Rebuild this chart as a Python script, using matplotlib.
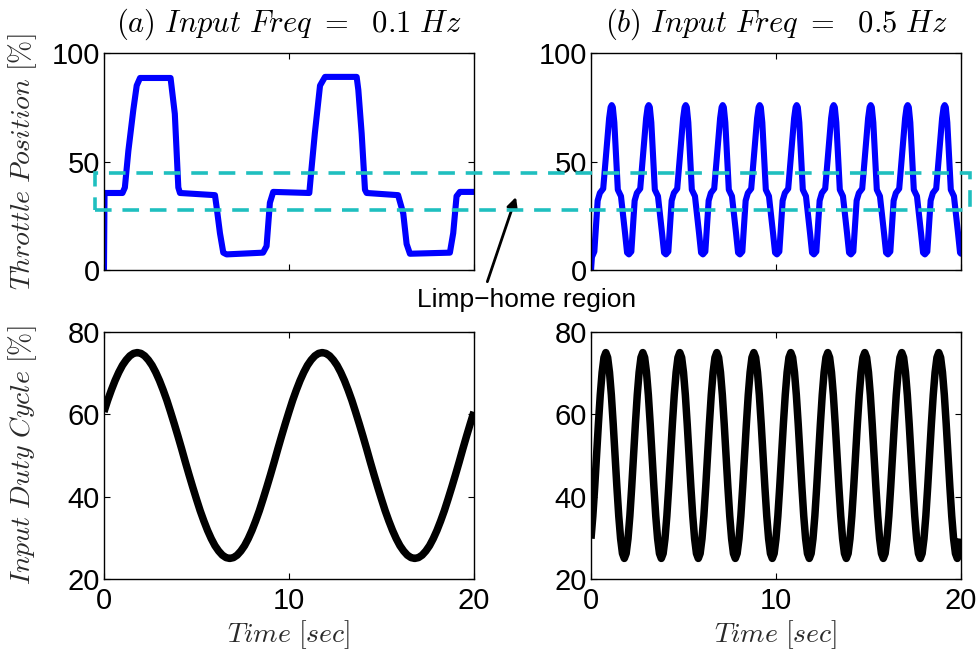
"""
Throttle response to a sinusoidal duty-cycle input (0.1 Hz vs 0.5 Hz)
"""

import numpy as np
import matplotlib.pyplot as plt
from matplotlib.patches import Rectangle
import matplotlib.transforms as mtransforms

plt.rcParams['font.family'] = ['Liberation Sans', 'DejaVu Sans']
plt.rcParams['mathtext.fontset'] = 'cm'

# ─────────────────────────────────────────
# DATA
# ─────────────────────────────────────────
# (a) 0.1 Hz – throttle position breakpoints
t_thr_a = [0.0, 0.03, 1.0, 1.13, 1.32, 1.59, 1.77, 1.95,
           3.6, 3.83, 4.02, 4.11,
           6.0, 6.09, 6.27, 6.45, 6.63,
           8.6, 8.79, 8.97, 9.15,
           11.1, 11.2, 11.4, 11.68, 11.95,
           13.66, 13.75, 13.93, 14.11, 14.2,
           15.9, 16.18, 16.36, 16.54,
           18.7, 18.88, 19.06, 19.24, 20.0]
thr_a = [0, 35.5, 35.5, 38, 55, 74, 85, 88.5,
         88.5, 72, 38, 35.5,
         34.5, 29, 17, 8, 7.2,
         8, 11, 31, 36,
         35.5, 45, 63, 85, 89,
         89, 83, 63, 37, 35.5,
         34.5, 26, 12, 7.5,
         8, 17, 34, 36, 36]

# (b) 0.5 Hz – throttle position breakpoints (one row per cycle)
t_thr_b = [0.0, 0.05, 0.18, 0.36, 0.48, 0.66, 0.88, 0.98, 1.06, 1.12, 1.18, 1.26, 1.45, 1.62, 1.84, 1.95,
           2.05, 2.18, 2.36, 2.48, 2.66, 2.88, 2.98, 3.06, 3.12, 3.18, 3.26, 3.45, 3.62, 3.84, 3.95,
           4.05, 4.18, 4.36, 4.48, 4.66, 4.88, 4.98, 5.06, 5.12, 5.18, 5.26, 5.45, 5.62, 5.84, 5.95,
           6.05, 6.18, 6.36, 6.48, 6.66, 6.88, 6.98, 7.06, 7.12, 7.18, 7.26, 7.45, 7.62, 7.84, 7.95,
           8.05, 8.18, 8.36, 8.48, 8.66, 8.88, 8.98, 9.06, 9.12, 9.18, 9.26, 9.45, 9.62, 9.84, 9.95,
           10.05, 10.18, 10.36, 10.48, 10.66, 10.88, 10.98, 11.06, 11.12, 11.18, 11.26, 11.45, 11.62, 11.84, 11.95,
           12.05, 12.18, 12.36, 12.48, 12.66, 12.88, 12.98, 13.06, 13.12, 13.18, 13.26, 13.45, 13.62, 13.84, 13.95,
           14.05, 14.18, 14.36, 14.48, 14.66, 14.88, 14.98, 15.06, 15.12, 15.18, 15.26, 15.45, 15.62, 15.84, 15.95,
           16.05, 16.18, 16.36, 16.48, 16.66, 16.88, 16.98, 17.06, 17.12, 17.18, 17.26, 17.45, 17.62, 17.84, 17.95,
           18.05, 18.18, 18.36, 18.48, 18.66, 18.88, 18.98, 19.06, 19.12, 19.18, 19.26, 19.45, 19.62, 19.84, 19.95,
           20.0]
thr_b = [0, 6, 8.5, 32, 35.5, 37.5, 60, 70, 75, 76, 75, 68, 37, 34, 17, 8,
         7.2, 8.5, 32, 35.5, 37.5, 60, 70, 75, 76, 75, 68, 37, 34, 17, 8,
         7.2, 8.5, 32, 35.5, 37.5, 60, 70, 75, 76, 75, 68, 37, 34, 17, 8,
         7.2, 8.5, 32, 35.5, 37.5, 60, 70, 75, 76, 75, 68, 37, 34, 17, 8,
         7.2, 8.5, 32, 35.5, 37.5, 60, 70, 75, 76, 75, 68, 37, 34, 17, 8,
         7.2, 8.5, 32, 35.5, 37.5, 60, 70, 75, 76, 75, 68, 37, 34, 17, 8,
         7.2, 8.5, 32, 35.5, 37.5, 60, 70, 75, 76, 75, 68, 37, 34, 17, 8,
         7.2, 8.5, 32, 35.5, 37.5, 60, 70, 75, 76, 75, 68, 37, 34, 17, 8,
         7.2, 8.5, 32, 35.5, 37.5, 60, 70, 75, 76, 75, 68, 37, 34, 17, 8,
         7.2, 8.5, 32, 35.5, 37.5, 60, 70, 75, 76, 75, 68, 37, 34, 17, 8,
         7.5]

# (a) 0.1 Hz – input duty cycle, sampled every 0.2 s
duty_a = [60.6, 63.4, 65.9, 68.2, 70.2, 71.9, 73.2, 74.2, 74.8, 75.0,
          74.8, 74.2, 73.2, 71.9, 70.2, 68.2, 65.9, 63.4, 60.6, 57.7,
          54.7, 51.6, 48.4, 45.3, 42.3, 39.4, 36.6, 34.1, 31.8, 29.8,
          28.1, 26.8, 25.8, 25.2, 25.0, 25.2, 25.8, 26.8, 28.1, 29.8,
          31.8, 34.1, 36.6, 39.4, 42.3, 45.3, 48.4, 51.6, 54.7, 57.7,
          60.6, 63.4, 65.9, 68.2, 70.2, 71.9, 73.2, 74.2, 74.8, 75.0,
          74.8, 74.2, 73.2, 71.9, 70.2, 68.2, 65.9, 63.4, 60.6, 57.7,
          54.7, 51.6, 48.4, 45.3, 42.3, 39.4, 36.6, 34.1, 31.8, 29.8,
          28.1, 26.8, 25.8, 25.2, 25.0, 25.2, 25.8, 26.8, 28.1, 29.8,
          31.8, 34.1, 36.6, 39.4, 42.3, 45.3, 48.4, 51.6, 54.7, 57.7,
          60.6]

# (b) 0.5 Hz – input duty cycle, sampled every 0.1 s
duty_b = [29.8, 35.3, 42.3, 50.0, 57.7, 64.7, 70.2, 73.8, 75.0, 73.8, 70.2, 64.7, 57.7, 50.0, 42.3, 35.3, 29.8, 26.2, 25.0, 26.2,
          29.8, 35.3, 42.3, 50.0, 57.7, 64.7, 70.2, 73.8, 75.0, 73.8, 70.2, 64.7, 57.7, 50.0, 42.3, 35.3, 29.8, 26.2, 25.0, 26.2,
          29.8, 35.3, 42.3, 50.0, 57.7, 64.7, 70.2, 73.8, 75.0, 73.8, 70.2, 64.7, 57.7, 50.0, 42.3, 35.3, 29.8, 26.2, 25.0, 26.2,
          29.8, 35.3, 42.3, 50.0, 57.7, 64.7, 70.2, 73.8, 75.0, 73.8, 70.2, 64.7, 57.7, 50.0, 42.3, 35.3, 29.8, 26.2, 25.0, 26.2,
          29.8, 35.3, 42.3, 50.0, 57.7, 64.7, 70.2, 73.8, 75.0, 73.8, 70.2, 64.7, 57.7, 50.0, 42.3, 35.3, 29.8, 26.2, 25.0, 26.2,
          29.8, 35.3, 42.3, 50.0, 57.7, 64.7, 70.2, 73.8, 75.0, 73.8, 70.2, 64.7, 57.7, 50.0, 42.3, 35.3, 29.8, 26.2, 25.0, 26.2,
          29.8, 35.3, 42.3, 50.0, 57.7, 64.7, 70.2, 73.8, 75.0, 73.8, 70.2, 64.7, 57.7, 50.0, 42.3, 35.3, 29.8, 26.2, 25.0, 26.2,
          29.8, 35.3, 42.3, 50.0, 57.7, 64.7, 70.2, 73.8, 75.0, 73.8, 70.2, 64.7, 57.7, 50.0, 42.3, 35.3, 29.8, 26.2, 25.0, 26.2,
          29.8, 35.3, 42.3, 50.0, 57.7, 64.7, 70.2, 73.8, 75.0, 73.8, 70.2, 64.7, 57.7, 50.0, 42.3, 35.3, 29.8, 26.2, 25.0, 26.2,
          29.8, 35.3, 42.3, 50.0, 57.7, 64.7, 70.2, 73.8, 75.0, 73.8, 70.2, 64.7, 57.7, 50.0, 42.3, 35.3, 29.8, 26.2, 25.0, 26.2,
          29.8]
t_duty_a = np.linspace(0, 20, len(duty_a))
t_duty_b = np.linspace(0, 20, len(duty_b))

limp_home = [27.5, 44.8]        # throttle band of the limp-home region [%]

titles = [r'$(a)\ Input\ Freq\ =\ \ 0.1\ Hz$', r'$(b)\ Input\ Freq\ =\ \ 0.5\ Hz$']

# ─────────────────────────────────────────
# FIGURE
# ─────────────────────────────────────────
BLUE  = '#0000FF'
CYAN  = '#1FBFBF'
LABEL = '#2a2a2a'

fig = plt.figure(figsize=(9.78, 6.53), dpi=100)
W, H_TOP, H_BOT = 0.3783, 0.3323, 0.3783
ax1 = fig.add_axes([0.1063, 0.5865, W, H_TOP])
ax2 = fig.add_axes([0.6043, 0.5865, W, H_TOP])
ax3 = fig.add_axes([0.1063, 0.1133, W, H_BOT])
ax4 = fig.add_axes([0.6043, 0.1133, W, H_BOT])

def style_ax(ax):
    ax.set_xlim(0, 20)
    ax.set_xticks([0, 10, 20])
    ax.tick_params(direction='in', top=True, right=True, labelsize=21,
                   length=4, width=0.8)
    ax.tick_params(axis='x', pad=6)
    ax.tick_params(axis='y', pad=3)
    for s in ax.spines.values():
        s.set_linewidth(1.0)

for ax in (ax1, ax2):
    style_ax(ax)
    ax.set_ylim(0, 100)
    ax.set_yticks([0, 50, 100])
    ax.tick_params(labelbottom=False)

for ax in (ax3, ax4):
    style_ax(ax)
    ax.set_ylim(20, 80)
    ax.set_yticks([20, 40, 60, 80])
    ax.set_xlabel(r'$Time\ [sec]$', fontsize=20, color=LABEL, labelpad=2)

ax1.plot(t_thr_a, thr_a, color=BLUE, lw=4.4, solid_joinstyle='round', solid_capstyle='round')
ax2.plot(t_thr_b, thr_b, color=BLUE, lw=4.4, solid_joinstyle='round', solid_capstyle='round')
ax3.plot(t_duty_a, duty_a, color='black', lw=5.4, solid_capstyle='butt')
ax4.plot(t_duty_b, duty_b, color='black', lw=5.4, solid_capstyle='butt')

ax1.set_title(titles[0], fontsize=22, pad=15)
ax2.set_title(titles[1], fontsize=22, pad=15)

ax1.set_ylabel(r'$Throttle\ Position\ [\%]$', fontsize=20, color=LABEL)
ax3.set_ylabel(r'$Input\ Duty\ Cycle\ [\%]$', fontsize=20, color=LABEL)
ax1.yaxis.set_label_coords(-0.175, 0.5)
ax3.yaxis.set_label_coords(-0.175, 0.5)

# ── Limp-home band spanning both top panels ──
trans = mtransforms.blended_transform_factory(fig.transFigure, ax1.transData)
band = Rectangle((0.097, limp_home[0]), 0.895, limp_home[1] - limp_home[0],
                 transform=trans, fill=False, edgecolor=CYAN, lw=2.6,
                 linestyle=(0, (4.6, 3.0)), zorder=5, clip_on=False)
fig.add_artist(band)

ax1.annotate('', xy=(0.5276, 0.6983), xycoords='figure fraction',
             xytext=(0.4983, 0.5686), textcoords='figure fraction',
             arrowprops=dict(arrowstyle='-|>', color='black', lw=2,
                             mutation_scale=16, shrinkA=0, shrinkB=0),
             annotation_clip=False)
fig.text(0.5383, 0.5406, 'Limp\u2212home region', ha='center', va='center',
         fontsize=19)

plt.savefig('out.png', dpi=100)
